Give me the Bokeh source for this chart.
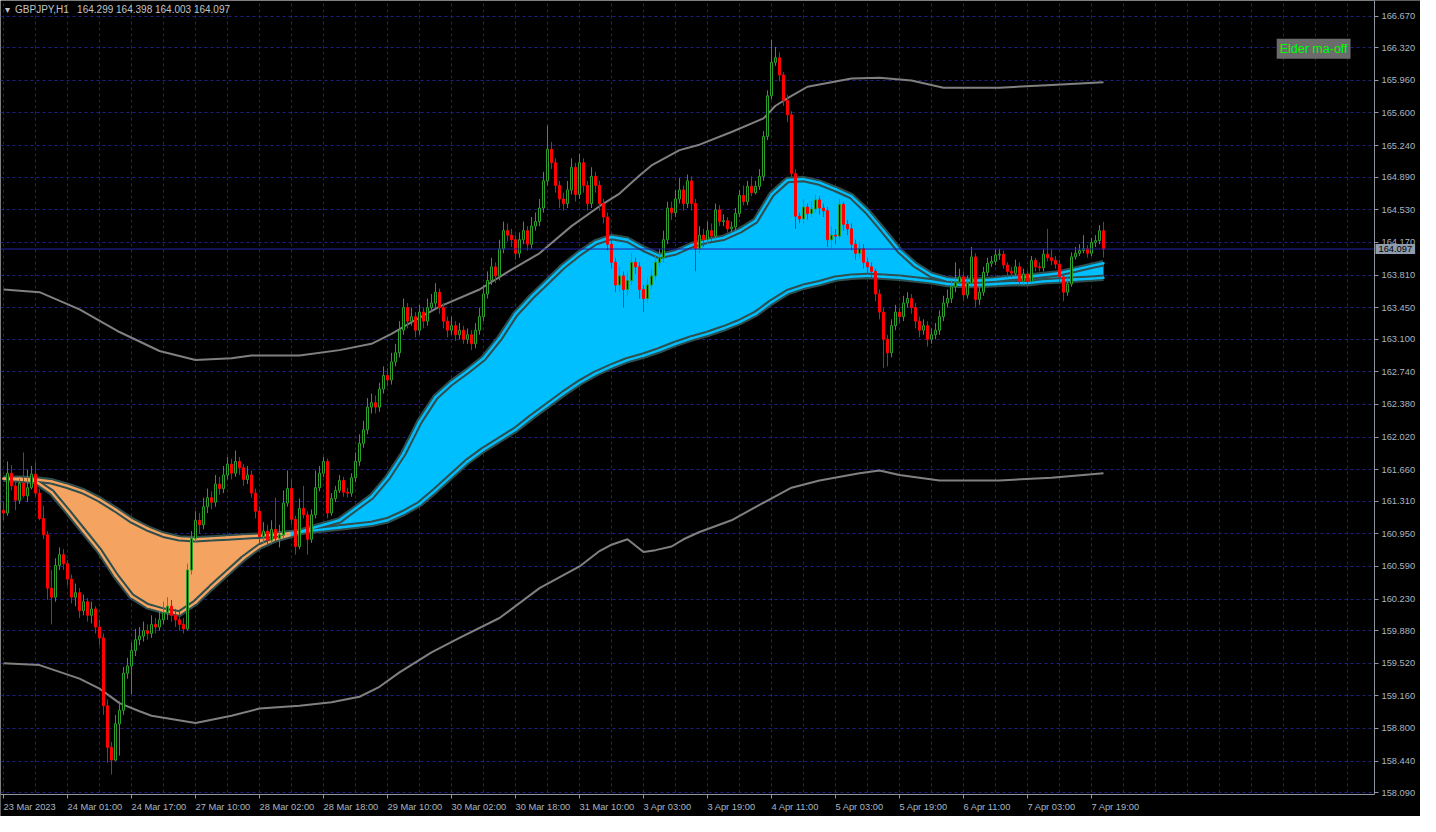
import numpy as np
from bokeh.plotting import figure
from bokeh.models import Range1d, FixedTicker, Label, ColumnDataSource, PrintfTickFormatter
from bokeh.core.properties import value
from bokeh.embed import file_html
from bokeh.resources import INLINE

# ---------------- data ----------------
symbol = "GBPJPY,H1"
first_open = 161.21
closes = [
    161.18, 161.62, 161.48, 161.32, 161.51, 161.37, 161.46, 161.61, 161.40, 161.12,
    160.94, 160.35, 160.25, 160.60, 160.72, 160.62, 160.45, 160.25, 160.30, 160.10,
    160.20, 160.05, 160.12, 159.92, 159.80, 159.05, 158.59, 158.45, 158.85, 159.00,
    159.41, 159.49, 159.66, 159.78, 159.82, 159.88, 159.85, 159.95, 159.92, 160.00,
    160.08, 160.15, 160.05, 160.00, 159.95, 159.90, 160.55, 160.90, 161.10, 161.05,
    161.25, 161.35, 161.30, 161.50, 161.45, 161.60, 161.72, 161.62, 161.75, 161.68,
    161.55, 161.60, 161.40, 161.20, 160.92, 160.98, 160.88, 161.00, 160.90, 160.94,
    161.29, 161.45, 161.11, 160.81, 161.23, 161.16, 160.89, 161.16, 161.46, 161.62,
    161.75, 161.18, 161.34, 161.43, 161.54, 161.41, 161.40, 161.57, 161.75, 161.95,
    162.10, 162.35, 162.40, 162.35, 162.55, 162.70, 162.65, 162.85, 162.95, 163.20,
    163.45, 163.30, 163.35, 163.20, 163.40, 163.30, 163.45, 163.50, 163.62, 163.45,
    163.30, 163.20, 163.25, 163.15, 163.20, 163.10, 163.15, 163.05, 163.20, 163.35,
    163.60, 163.75, 163.90, 163.80, 164.10, 164.30, 164.25, 164.20, 164.05, 164.20,
    164.30, 164.15, 164.35, 164.40, 164.55, 164.85, 165.20, 165.05, 164.80, 164.65,
    164.60, 164.75, 165.00, 164.70, 165.05, 164.80, 164.60, 164.90, 164.80, 164.60,
    164.45, 164.15, 163.95, 163.70, 163.80, 163.65, 163.75, 163.95, 163.90, 163.65,
    163.55, 163.70, 163.80, 163.95, 164.00, 164.20, 164.55, 164.50, 164.65, 164.75,
    164.60, 164.85, 164.60, 164.10, 164.25, 164.20, 164.30, 164.24, 164.53, 164.40,
    164.41, 164.32, 164.34, 164.49, 164.69, 164.62, 164.79, 164.72, 164.79, 164.90,
    165.34, 165.79, 166.16, 166.21, 166.02, 165.74, 165.58, 164.93, 164.46, 164.43,
    164.56, 164.49, 164.54, 164.64, 164.55, 164.52, 164.20, 164.25, 164.24, 164.59,
    164.37, 164.32, 164.15, 164.05, 164.10, 163.95, 163.90, 163.85, 163.60, 163.40,
    163.10, 162.95, 163.25, 163.40, 163.35, 163.50, 163.55, 163.45, 163.30, 163.20,
    163.25, 163.10, 163.15, 163.20, 163.35, 163.50, 163.55, 163.68, 163.73, 163.79,
    163.59, 163.72, 164.01, 163.54, 163.62, 163.84, 163.94, 163.96, 164.03, 164.04,
    163.92, 163.85, 163.83, 163.90, 163.74, 163.82, 163.74, 163.97, 163.90, 163.89,
    164.04, 164.00, 163.97, 163.93, 163.79, 163.62, 163.71, 164.01, 164.05, 164.08,
    164.10, 164.05, 164.17, 164.19, 164.299, 164.097,
]
highs = [
    161.31, 161.75, 161.71, 161.52, 161.56, 161.85, 161.66, 161.70, 161.74, 161.45,
    161.26, 160.98, 160.55, 160.68, 160.80, 160.78, 160.66, 160.50, 160.40, 160.35,
    160.28, 160.24, 160.20, 160.15, 160.00, 159.85, 159.12, 158.65, 158.95, 159.10,
    159.48, 159.58, 159.75, 159.90, 159.92, 159.98, 159.95, 160.05, 160.02, 160.10,
    160.20, 160.25, 160.22, 160.12, 160.10, 160.02, 160.62, 160.98, 161.20, 161.18,
    161.35, 161.45, 161.42, 161.60, 161.58, 161.70, 161.80, 161.78, 161.87, 161.80,
    161.72, 161.70, 161.65, 161.45, 161.25, 161.08, 161.05, 161.10, 161.35, 161.05,
    161.43, 161.65, 161.55, 161.15, 161.34, 161.48, 161.20, 161.22, 161.65, 161.70,
    161.80, 161.78, 161.40, 161.48, 161.60, 161.58, 161.46, 161.62, 161.85, 162.05,
    162.20, 162.45, 162.50, 162.48, 162.62, 162.80, 162.78, 162.95, 163.05, 163.30,
    163.55, 163.50, 163.45, 163.40, 163.48, 163.45, 163.55, 163.60, 163.72, 163.66,
    163.50, 163.35, 163.35, 163.30, 163.28, 163.25, 163.22, 163.20, 163.28, 163.45,
    163.70, 163.85, 164.00, 163.95, 164.20, 164.40, 164.38, 164.32, 164.25, 164.28,
    164.40, 164.35, 164.45, 164.50, 164.65, 164.95, 165.46, 165.28, 165.10, 164.85,
    164.72, 164.85, 165.10, 165.05, 165.15, 165.10, 164.85, 165.00, 164.95, 164.85,
    164.65, 164.50, 164.20, 164.00, 163.90, 163.85, 163.85, 164.05, 164.00, 163.95,
    163.70, 163.78, 163.88, 164.02, 164.10, 164.30, 164.62, 164.62, 164.75, 164.88,
    164.80, 164.92, 164.90, 164.65, 164.35, 164.32, 164.40, 164.38, 164.60, 164.58,
    164.48, 164.45, 164.40, 164.55, 164.75, 164.80, 164.85, 164.90, 164.85, 164.98,
    165.40, 165.85, 166.41, 166.33, 166.27, 166.05, 165.80, 165.62, 164.98, 164.50,
    164.65, 164.60, 164.62, 164.70, 164.68, 164.60, 164.56, 164.35, 164.32, 164.65,
    164.62, 164.42, 164.38, 164.20, 164.18, 164.15, 164.00, 163.95, 163.88, 163.65,
    163.45, 163.15, 163.32, 163.48, 163.45, 163.58, 163.62, 163.60, 163.50, 163.35,
    163.32, 163.30, 163.22, 163.28, 163.42, 163.58, 163.65, 163.75, 163.95, 163.88,
    163.85, 163.80, 164.12, 164.05, 163.70, 163.90, 164.00, 164.02, 164.10, 164.10,
    164.08, 163.95, 163.90, 163.98, 163.95, 163.88, 163.86, 164.02, 164.00, 163.95,
    164.10, 164.32, 164.10, 164.02, 163.98, 163.82, 163.78, 164.06, 164.12, 164.15,
    164.25, 164.14, 164.22, 164.25, 164.36, 164.398,
]
lows = [
    161.10, 161.15, 161.43, 161.21, 161.28, 161.35, 161.30, 161.44, 161.36, 161.10,
    160.89, 160.22, 159.95, 160.20, 160.55, 160.55, 160.38, 160.18, 160.15, 160.02,
    160.05, 159.98, 159.96, 159.85, 159.72, 158.95, 158.42, 158.29, 158.44, 158.50,
    158.95, 159.35, 159.18, 159.60, 159.72, 159.76, 159.78, 159.80, 159.85, 159.88,
    159.95, 160.00, 159.98, 159.92, 159.88, 159.85, 159.88, 160.50, 160.85, 160.95,
    161.00, 161.18, 161.22, 161.25, 161.38, 161.40, 161.55, 161.55, 161.58, 161.60,
    161.48, 161.50, 161.35, 161.12, 160.85, 160.85, 160.82, 160.84, 160.85, 160.80,
    160.90, 161.25, 161.05, 160.72, 160.78, 161.12, 160.72, 160.85, 161.12, 161.42,
    161.58, 161.12, 161.15, 161.30, 161.40, 161.36, 161.35, 161.36, 161.52, 161.70,
    161.90, 162.05, 162.28, 162.28, 162.30, 162.50, 162.58, 162.60, 162.80, 162.90,
    163.15, 163.22, 163.25, 163.12, 163.15, 163.22, 163.25, 163.40, 163.45, 163.38,
    163.22, 163.12, 163.15, 163.08, 163.10, 163.05, 163.05, 162.98, 163.00, 163.15,
    163.30, 163.55, 163.70, 163.72, 163.75, 164.05, 164.18, 164.12, 163.98, 164.00,
    164.15, 164.08, 164.10, 164.30, 164.35, 164.50, 164.80, 164.98, 164.72, 164.55,
    164.52, 164.55, 164.70, 164.62, 164.65, 164.72, 164.52, 164.55, 164.72, 164.52,
    164.38, 164.08, 163.88, 163.62, 163.62, 163.45, 163.58, 163.70, 163.82, 163.55,
    163.40, 163.50, 163.65, 163.75, 163.90, 163.95, 164.15, 164.42, 164.45, 164.60,
    164.52, 164.55, 164.52, 163.85, 164.05, 164.12, 164.15, 164.18, 164.20, 164.35,
    164.35, 164.28, 164.28, 164.30, 164.45, 164.58, 164.58, 164.68, 164.70, 164.75,
    164.85, 165.30, 165.75, 166.12, 165.95, 165.68, 165.50, 164.88, 164.32, 164.38,
    164.38, 164.42, 164.45, 164.50, 164.48, 164.45, 164.12, 164.10, 164.15, 164.20,
    164.30, 164.25, 164.08, 163.98, 164.00, 163.88, 163.82, 163.78, 163.52, 163.32,
    162.78, 162.80, 162.90, 163.20, 163.28, 163.30, 163.45, 163.38, 163.22, 163.12,
    163.15, 163.02, 163.05, 163.10, 163.15, 163.30, 163.45, 163.50, 163.62, 163.70,
    163.52, 163.55, 163.68, 163.45, 163.48, 163.58, 163.80, 163.90, 163.92, 163.98,
    163.88, 163.78, 163.78, 163.80, 163.70, 163.70, 163.68, 163.72, 163.85, 163.85,
    163.85, 163.96, 163.92, 163.88, 163.72, 163.52, 163.58, 163.68, 163.98, 164.02,
    164.05, 164.00, 164.02, 164.12, 164.15, 164.003,
]

# Elder MA band (fast / slow averages), sampled every 4 bars
band_bars = list(range(0, 273, 4)) + [275]
ma_fast = [
    161.56, 161.55, 161.53, 161.41, 161.20, 160.98, 160.76, 160.49, 160.26, 160.15,
    160.10, 160.07, 160.19, 160.36, 160.52, 160.68, 160.81, 160.89, 160.94, 161.00,
    161.05, 161.10, 161.23, 161.36, 161.57, 161.84, 162.19, 162.46, 162.62, 162.75,
    162.89, 163.11, 163.38, 163.57, 163.74, 163.91, 164.05, 164.17, 164.23, 164.20,
    164.10, 164.02, 164.06, 164.14, 164.19, 164.22, 164.30, 164.41, 164.70, 164.86,
    164.87, 164.83, 164.76, 164.68, 164.51, 164.30, 164.08, 163.92, 163.81, 163.76,
    163.75, 163.75, 163.76, 163.78, 163.79, 163.81, 163.83, 163.87, 163.91, 163.94,
]
ma_slow = [
    161.56, 161.56, 161.55, 161.53, 161.48, 161.42, 161.33, 161.22, 161.10, 161.01,
    160.94, 160.90, 160.89, 160.90, 160.91, 160.92, 160.93, 160.94, 160.96, 160.98,
    161.00, 161.02, 161.04, 161.06, 161.10, 161.18, 161.28, 161.43, 161.59, 161.75,
    161.88, 161.99, 162.10, 162.24, 162.37, 162.50, 162.62, 162.72, 162.80, 162.87,
    162.92, 162.98, 163.05, 163.11, 163.16, 163.22, 163.29, 163.38, 163.51, 163.62,
    163.68, 163.72, 163.77, 163.79, 163.80, 163.79, 163.78, 163.76, 163.74, 163.71,
    163.70, 163.70, 163.71, 163.72, 163.72, 163.74, 163.75, 163.76, 163.77, 163.78,
]

# outer channel (gray lines)
chan_up_bars = [0, 9, 19, 29, 39, 48, 57, 62, 74, 84, 92, 97, 102, 109, 119, 127, 134, 142,
                149, 154, 159, 162, 169, 174, 182, 190, 193, 197, 201, 207, 212, 219, 227,
                235, 249, 262, 275]
chan_up = [163.65, 163.62, 163.43, 163.18, 162.97, 162.87, 162.89, 162.92, 162.92, 162.98,
           163.05, 163.16, 163.29, 163.46, 163.65, 163.87, 164.05, 164.35, 164.57, 164.71,
           164.91, 165.02, 165.19, 165.25, 165.39, 165.54, 165.68, 165.79, 165.89, 165.94,
           165.98, 165.99, 165.96, 165.88, 165.88, 165.91, 165.94]
chan_lo_bars = [0, 9, 19, 24, 29, 34, 37, 48, 57, 64, 74, 82, 89, 94, 99, 107, 114, 124,
                134, 144, 149, 152, 156, 160, 163, 167, 170, 174, 182, 189, 197, 204, 214,
                219, 224, 234, 249, 262, 275]
chan_lo = [159.52, 159.50, 159.35, 159.24, 159.08, 158.99, 158.94, 158.86, 158.94, 159.02,
           159.05, 159.09, 159.15, 159.26, 159.42, 159.64, 159.80, 160.02, 160.35, 160.59,
           160.76, 160.83, 160.89, 160.75, 160.77, 160.81, 160.89, 160.97, 161.10, 161.27,
           161.46, 161.54, 161.62, 161.65, 161.60, 161.54, 161.54, 161.57, 161.62]

price_ticks = [158.090, 158.440, 158.800, 159.160, 159.520, 159.880, 160.230, 160.590,
               160.950, 161.310, 161.660, 162.020, 162.380, 162.740, 163.100, 163.450,
               163.810, 164.170, 164.530, 164.890, 165.240, 165.600, 165.960, 166.320,
               166.670]
time_tick_bars = [0, 16, 32, 48, 64, 80, 96, 112, 128, 144, 160, 176, 192, 208, 224, 240, 256, 272]
time_tick_labels = ["23 Mar 2023", "24 Mar 01:00", "24 Mar 17:00", "27 Mar 10:00",
                    "28 Mar 02:00", "28 Mar 18:00", "29 Mar 10:00", "30 Mar 02:00",
                    "30 Mar 18:00", "31 Mar 10:00", "3 Apr 03:00", "3 Apr 19:00",
                    "4 Apr 11:00", "5 Apr 03:00", "5 Apr 19:00", "6 Apr 11:00",
                    "7 Apr 03:00", "7 Apr 19:00"]
indicator_name = "Elder ma-off"

# ---------------- layout / styling ----------------
W, H = 1420, 816              # whole figure == frame
CHART_W, CHART_H = 1374, 794  # price area; the rest is the axis strip
PX_PER_BAR = 4.0
X0 = -0.75
Y_TOP, Y_BOT = 166.843, 158.07
x_chart_end = X0 + CHART_W / PX_PER_BAR
x_end = X0 + W / PX_PER_BAR
y_per_px = (Y_TOP - Y_BOT) / CHART_H
y_start = Y_BOT - (H - CHART_H) * y_per_px

BG = "#000000"
GRID = "#1f1f86"
AXIS = "#8f959c"
AXIS_TXT = "#a9b5c2"
BULL = "#2aa02a"
BEAR = "#ff0000"
ORANGE = "#f4a460"
BLUE = "#00bfff"
EDGE = "#2f4f4f"
CHAN = "#808080"
FONT = "Liberation Sans"
FS = "9.3px"

n = len(closes)
bars = np.arange(n)
opens = [first_open] + closes[:-1]
o = np.array(opens); c = np.array(closes); h = np.array(highs); l = np.array(lows)
up = c >= o

p = figure(width=W, height=H, x_range=Range1d(X0, x_end), y_range=Range1d(y_start, Y_TOP),
           output_backend="svg", toolbar_location=None, y_axis_location="right",
           background_fill_color=BG, border_fill_color=BG, outline_line_color=None,
           min_border_left=0, min_border_top=0, min_border_right=0, min_border_bottom=0)

# grid
p.xgrid.ticker = FixedTicker(ticks=list(range(0, int(x_chart_end) + 1, 8)))
p.ygrid.ticker = FixedTicker(ticks=price_ticks)
for g in (p.xgrid, p.ygrid):
    g.grid_line_color = GRID
    g.grid_line_dash = "3 3"
    g.grid_line_width = 1

# black strips under the axes (hide grid there)
p.quad(left=[x_chart_end, X0], right=[x_end, x_end], bottom=[y_start, y_start],
       top=[Y_TOP, Y_BOT], fill_color=BG, line_color=None)

# axes drawn at the edge of the price area
p.yaxis.ticker = FixedTicker(ticks=price_ticks)
p.yaxis.formatter = PrintfTickFormatter(format="%.3f")
p.yaxis.fixed_location = x_chart_end
p.yaxis.bounds = (Y_BOT, Y_TOP)
p.xaxis.ticker = FixedTicker(ticks=time_tick_bars)
p.xaxis.major_label_overrides = {b: "" for b in time_tick_bars}
p.xaxis.fixed_location = Y_BOT
p.xaxis.bounds = (X0, x_chart_end)
for ax in (p.xaxis, p.yaxis):
    ax.axis_line_color = AXIS
    ax.major_tick_line_color = AXIS
    ax.major_tick_out = 4
    ax.major_tick_in = 0
    ax.minor_tick_line_color = None
    ax.major_label_text_color = AXIS_TXT
    ax.major_label_text_font = FONT
    ax.major_label_text_font_size = FS
    ax.major_label_standoff = 3

# time labels, left-aligned at their tick
p.text(x=time_tick_bars, y=[Y_BOT] * len(time_tick_bars), text=time_tick_labels,
       x_offset=0, y_offset=7, text_align="left", text_baseline="top",
       text_color=AXIS_TXT, text_font=value(FONT), text_font_size=FS)

# channel lines
p.line(chan_up_bars, chan_up, line_color=CHAN, line_width=2)
p.line(chan_lo_bars, chan_lo, line_color=CHAN, line_width=2)

# band fill
bb = np.array(band_bars, dtype=float)
f = np.array(ma_fast); s = np.array(ma_slow)
p.varea(x=bb, y1=np.minimum(f, s), y2=s, fill_color=ORANGE)
p.varea(x=bb, y1=s, y2=np.maximum(f, s), fill_color=BLUE)

# band edges: dark double line with inner colour strip
seg_col = [ORANGE if (f[i] + f[i + 1]) < (s[i] + s[i + 1]) else BLUE for i in range(len(bb) - 1)]
for arr in (f, s):
    p.line(bb, arr, line_color=EDGE, line_width=6.5, line_join="round")
for arr in (f, s):
    p.segment(x0=bb[:-1], y0=arr[:-1], x1=bb[1:], y1=arr[1:], line_color=seg_col,
              line_width=2.4, line_cap="round")

# candles
src = ColumnDataSource(dict(x=bars, o=o, c=c, h=h, l=l,
                            top=np.maximum(o, c), bot=np.minimum(o, c),
                            col=[BULL if u else BEAR for u in up],
                            fill=[BG if u else BEAR for u in up]))
p.segment(x0="x", y0="l", x1="x", y1="h", line_color="col", line_width=1, source=src)
p.vbar(x="x", width=0.5, top="top", bottom="bot", fill_color="fill", line_color="col",
       line_width=1, source=src)

# current price line and label
p.segment(x0=[X0], y0=[closes[-1]], x1=[x_chart_end], y1=[closes[-1]],
          line_color="#2424a8", line_width=1)
p.add_layout(Label(x=x_chart_end, y=closes[-1], x_offset=1, text=f"{closes[-1]:.3f}",
                   text_baseline="middle", text_align="left", text_color="#000000",
                   text_font=FONT, text_font_size=FS,
                   background_fill_color="#8e9cac",
                   padding=dict(left=3, right=3, top=2, bottom=2)))

# indicator label
p.add_layout(Label(x=318.3, y=166.31, text=indicator_name, text_baseline="middle",
                   text_align="left", text_color="#00ff00", text_font=FONT,
                   text_font_size="12.5px", background_fill_color="#6b6b6b", padding=3))

# header text
NB = "\u00a0"
header = (f"\u25be{NB}{NB}{symbol}{NB}{NB}{NB}{opens[-1]:.3f} {highs[-1]:.3f} "
          f"{lows[-1]:.3f} {closes[-1]:.3f}")
p.add_layout(Label(x=X0, y=Y_TOP, x_offset=4, y_offset=-3, text=header,
                   text_baseline="top", text_align="left", text_color="#c4c4c4",
                   text_font=FONT, text_font_size="10px"))

open("out.html", "w").write(file_html(p, INLINE))
